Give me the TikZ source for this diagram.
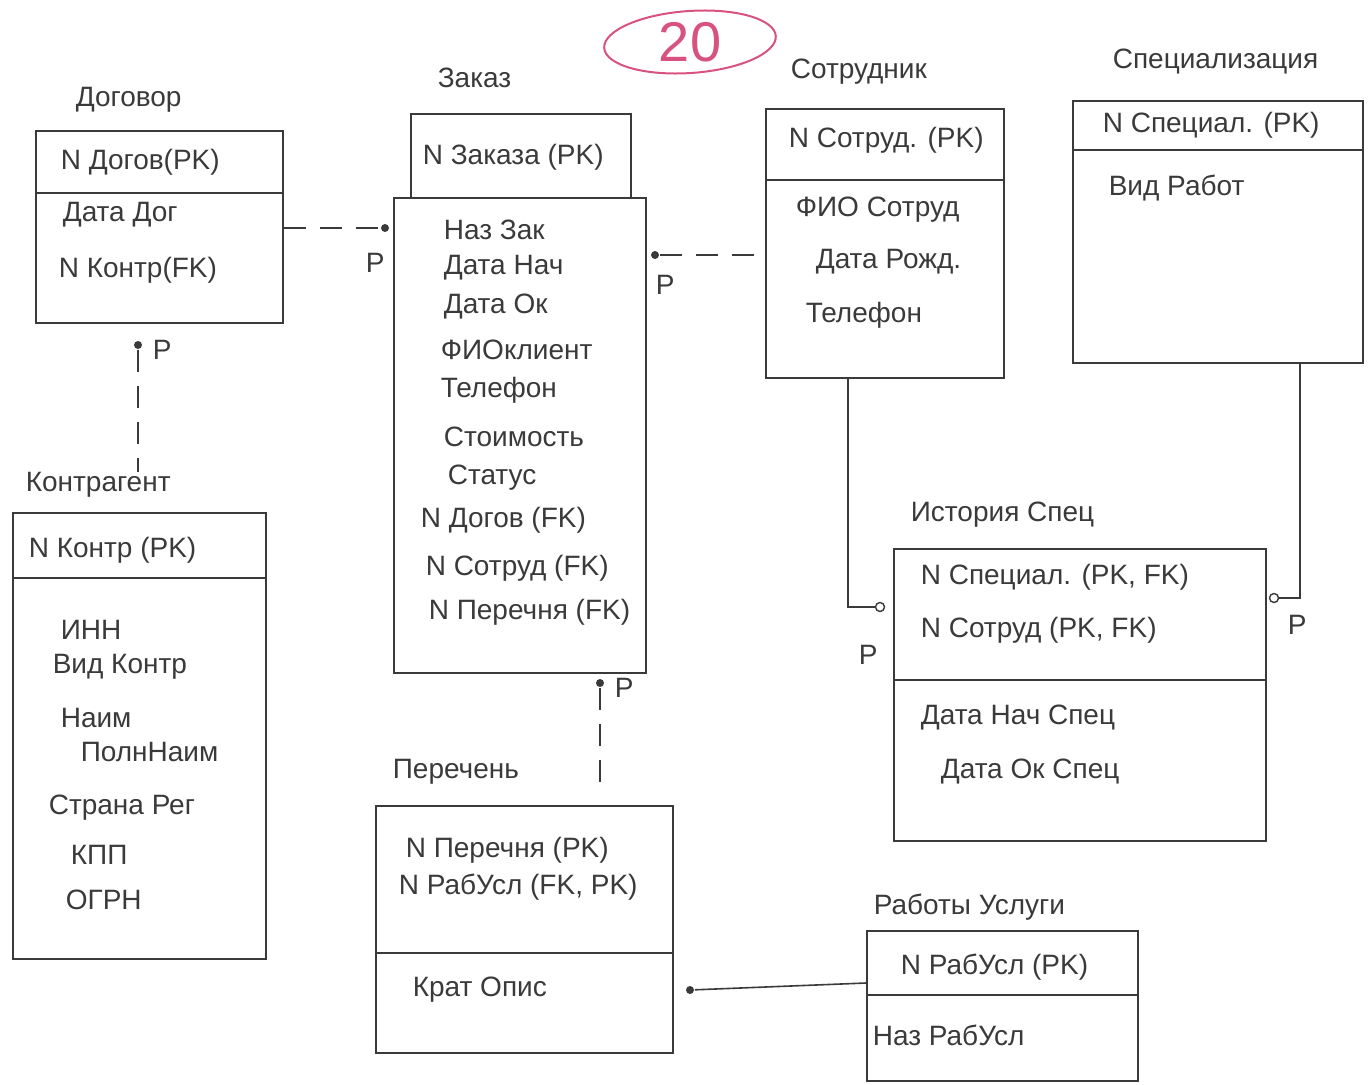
\documentclass[tikz,border=0pt]{standalone}
\usepackage{fontspec}
\setmainfont{Liberation Sans}
\definecolor{ink}{HTML}{3A3A3A}
\definecolor{marker}{HTML}{D8527F}
\begin{document}
\begin{tikzpicture}[x=1pt,y=-1pt,line width=1.6pt,color=ink,
 every node/.style={font=\fontsize{28}{32}\selectfont},
 box/.style args={#1x#2}{draw, minimum width=#1pt, minimum height=#2pt, anchor=north west, inner sep=0pt},
 attr/.style={anchor=west, inner sep=0pt},
 dot/.style={circle, fill=ink, inner sep=0pt, minimum size=8pt},
 ring/.style={circle, draw, fill=white, inner sep=0pt, minimum size=9pt, line width=1.4pt},
 rel/.style={dash pattern=on 22pt off 14pt}]
 \useasboundingbox (0,0) rectangle (1372,1084);
 \node[text=marker, font=\fontsize{56}{60}\selectfont] (mark) at (690,42) {20};
 \draw[marker, line width=2pt, rotate around={4:(mark.center)}] (mark.center) ellipse [x radius=86, y radius=31];

 \node[attr] (tDog) at (75,100) {Договор};
 \node[box=247x192] (dog) at (35,130) {};
 \draw (dog.west |- 0,193) -- (dog.east |- 0,193);
 \node[attr] at (60,162) {N Догов(PK)};
 \node[attr] at (62,215) {Дата Дог};
 \node[attr] at (58,270) {N Контр(FK)};

 \node[attr] (tZak) at (437,78) {Заказ};
 \node[box=220x84] (zakPK) at (410,113) {};
 \node[box=252x475] (zak) at (393,197) {};
 \node[attr] at (422,157) {N Заказа (PK)};
 \node[attr] at (443,230) {Наз Зак};
 \node[attr] at (443,268) {Дата Нач};
 \node[attr] at (443,307) {Дата Ок};
 \node[attr] at (440,350) {ФИОклиент};
 \node[attr] at (440,390) {Телефон};
 \node[attr] at (443,437) {Стоимость};
 \node[attr] at (447,478) {Статус};
 \node[attr] at (420,520) {N Догов (FK)};
 \node[attr] at (425,568) {N Сотруд (FK)};
 \node[attr] at (428,612) {N Перечня (FK)};

 \node[attr] (tSot) at (790,72) {Сотрудник};
 \node[box=238x269] (sot) at (765,108) {};
 \draw (sot.west |- 0,180) -- (sot.east |- 0,180);
 \node[attr] at (788,140) {N Сотруд. (PK)};
 \node[attr] at (795,210) {ФИО Сотруд};
 \node[attr] at (815,262) {Дата Рожд.};
 \node[attr] at (805,315) {Телефон};

 \node[attr] (tSpec) at (1112,62) {Специализация};
 \node[box=290x262] (spec) at (1072,100) {};
 \draw (spec.west |- 0,150) -- (spec.east |- 0,150);
 \node[attr] at (1102,125) {N Специал. (PK)};
 \node[attr] at (1108,188) {Вид Работ};

 \node[attr] (tKon) at (25,485) {Контрагент};
 \node[box=253x446] (kon) at (12,512) {};
 \draw (kon.west |- 0,578) -- (kon.east |- 0,578);
 \node[attr] at (28,550) {N Контр (PK)};
 \node[attr] at (60,630) {ИНН};
 \node[attr] at (52,667) {Вид Контр};
 \node[attr] at (60,718) {Наим};
 \node[attr] at (80,752) {ПолнНаим};
 \node[attr] at (48,808) {Страна Рег};
 \node[attr] at (70,855) {КПП};
 \node[attr] at (65,900) {ОГРН};

 \node[attr] (tIst) at (910,515) {История Спец};
 \node[box=372x292] (ist) at (893,548) {};
 \draw (ist.west |- 0,680) -- (ist.east |- 0,680);
 \node[attr] at (920,577) {N Специал. (PK, FK)};
 \node[attr] at (920,630) {N Сотруд (PK, FK)};
 \node[attr] at (920,718) {Дата Нач Спец};
 \node[attr] at (940,772) {Дата Ок Спец};

 \node[attr] (tPer) at (392,772) {Перечень};
 \node[box=297x247] (per) at (375,805) {};
 \draw (per.west |- 0,953) -- (per.east |- 0,953);
 \node[attr] at (405,850) {N Перечня (PK)};
 \node[attr] at (398,887) {N РабУсл (FK, PK)};
 \node[attr] at (412,990) {Крат Опис};

 \node[attr] (tRab) at (873,907) {Работы Услуги};
 \node[box=271x150] (rab) at (866,930) {};
 \draw (rab.west |- 0,995) -- (rab.east |- 0,995);
 \node[attr] at (900,967) {N РабУсл (PK)};
 \node[attr] at (872,1035) {Наз РабУсл};

 \node[dot] (d1) at (385,228) {};
 \draw[rel] (dog.east |- d1) -- (d1);
 \node[attr] at (365,263) {P};
 \node[dot] (d2) at (138,345) {};
 \draw[rel] (d2) -- (d2 |- tKon.north);
 \node[attr] at (152,350) {P};
 \node[dot] (d3) at (655,255) {};
 \draw[rel] (d3) -- (sot.west |- d3);
 \node[attr] at (655,285) {P};
 \node[dot] (d4) at (600,683) {};
 \draw[rel, shorten >=23pt] (d4) -- (d4 |- per.north);
 \node[attr] at (614,688) {P};
 \node[ring] (r5) at (880,607) {};
 \draw (sot.south -| 848,0) |- (r5);
 \node[attr] at (858,655) {P};
 \node[ring] (r6) at (1274,598) {};
 \draw (spec.south -| 1300,0) |- (r6);
 \node[attr] at (1287,625) {P};
 \node[dot] (d7) at (690,990) {};
 \draw (d7) -- (rab.west |- 0,983);
\end{tikzpicture}
\end{document}
